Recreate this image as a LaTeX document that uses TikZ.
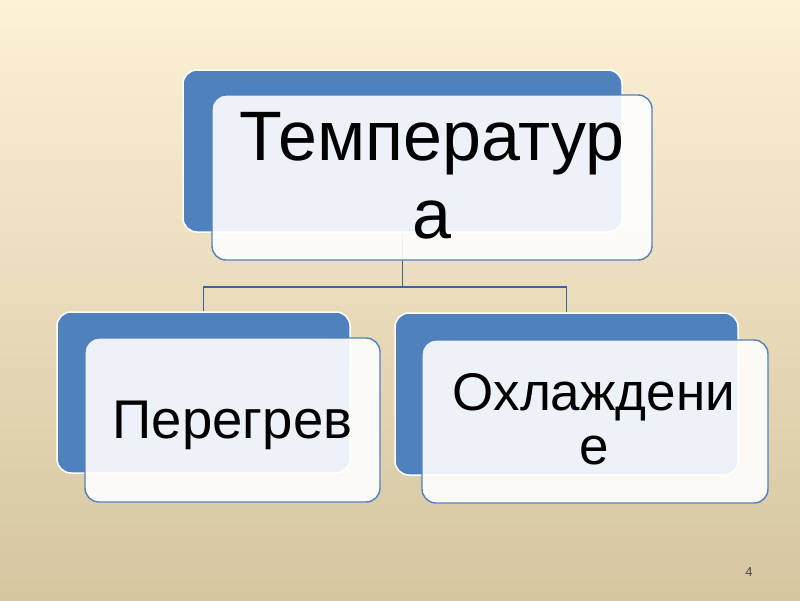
\documentclass[tikz,border=0pt]{standalone}
\usepackage{fontspec}
\setmainfont{Liberation Sans}
\definecolor{bgtop}{RGB}{253,241,214}
\definecolor{bgmid}{RGB}{242,234,212}
\definecolor{bgbot}{RGB}{213,198,160}
\definecolor{accent}{RGB}{79,129,189}
\definecolor{frontedge}{RGB}{84,128,185}
\definecolor{conn}{RGB}{62,100,150}
\tikzset{
  backbox/.style={draw=white, line width=1.5pt, fill=accent, rounded corners=14pt, inner sep=0pt},
  frontbox/.style={draw=frontedge, line width=1.4pt, fill=white, fill opacity=0.9, rounded corners=14pt, inner sep=0pt},
  conline/.style={draw=conn, line width=1.5pt},
  bigtext/.style={font=\fontsize{70}{78}\selectfont, text=black, inner sep=0pt, anchor=base},
  midtext/.style={font=\fontsize{53}{60}\selectfont, text=black, inner sep=0pt, anchor=base},
  pagenum/.style={font=\fontsize{13}{15}\selectfont, text=black!70, inner sep=0pt}
}
\begin{document}
\begin{tikzpicture}[x=1pt,y=-1pt]
\shade[top color=bgtop, middle color=bgmid, bottom color=bgbot] (0,0) rectangle (800,600);
\useasboundingbox (0,0) rectangle (800,600);
% back boxes
\node[backbox, minimum width=439pt, minimum height=162pt] (bt) at (402.5,151) {};
\node[backbox, minimum width=293pt, minimum height=161pt] (bl) at (203.5,392.5) {};
\node[backbox, minimum width=343pt, minimum height=162pt] (br) at (566.5,394) {};
% connectors
\coordinate (j) at (402.5,287);
\draw[conline] (bt.south) -- (j) -| (bl.north);
\draw[conline] (j) -| (br.north);
% front boxes
\node[frontbox, minimum width=440pt, minimum height=165pt] (ft) at (432,177.5) {};
\node[frontbox, minimum width=295pt, minimum height=164pt] (fl) at (232.5,420) {};
\node[frontbox, minimum width=346pt, minimum height=163pt] (fr) at (595,421.5) {};
% texts
\node[bigtext] (t1) at (432,160) {Температур};
\node[bigtext] (t2) at (432,238) {а};
\node[midtext, font=\fontsize{54.5}{60}\selectfont] (l1) at (232.5,438) {Перегрев};
\node[midtext] (r1) at (594,410) {Охлаждени};
\node[midtext] (r2) at (594,464) {е};
\node[pagenum] (pn) at (749,572) {4};
\end{tikzpicture}
\end{document}
